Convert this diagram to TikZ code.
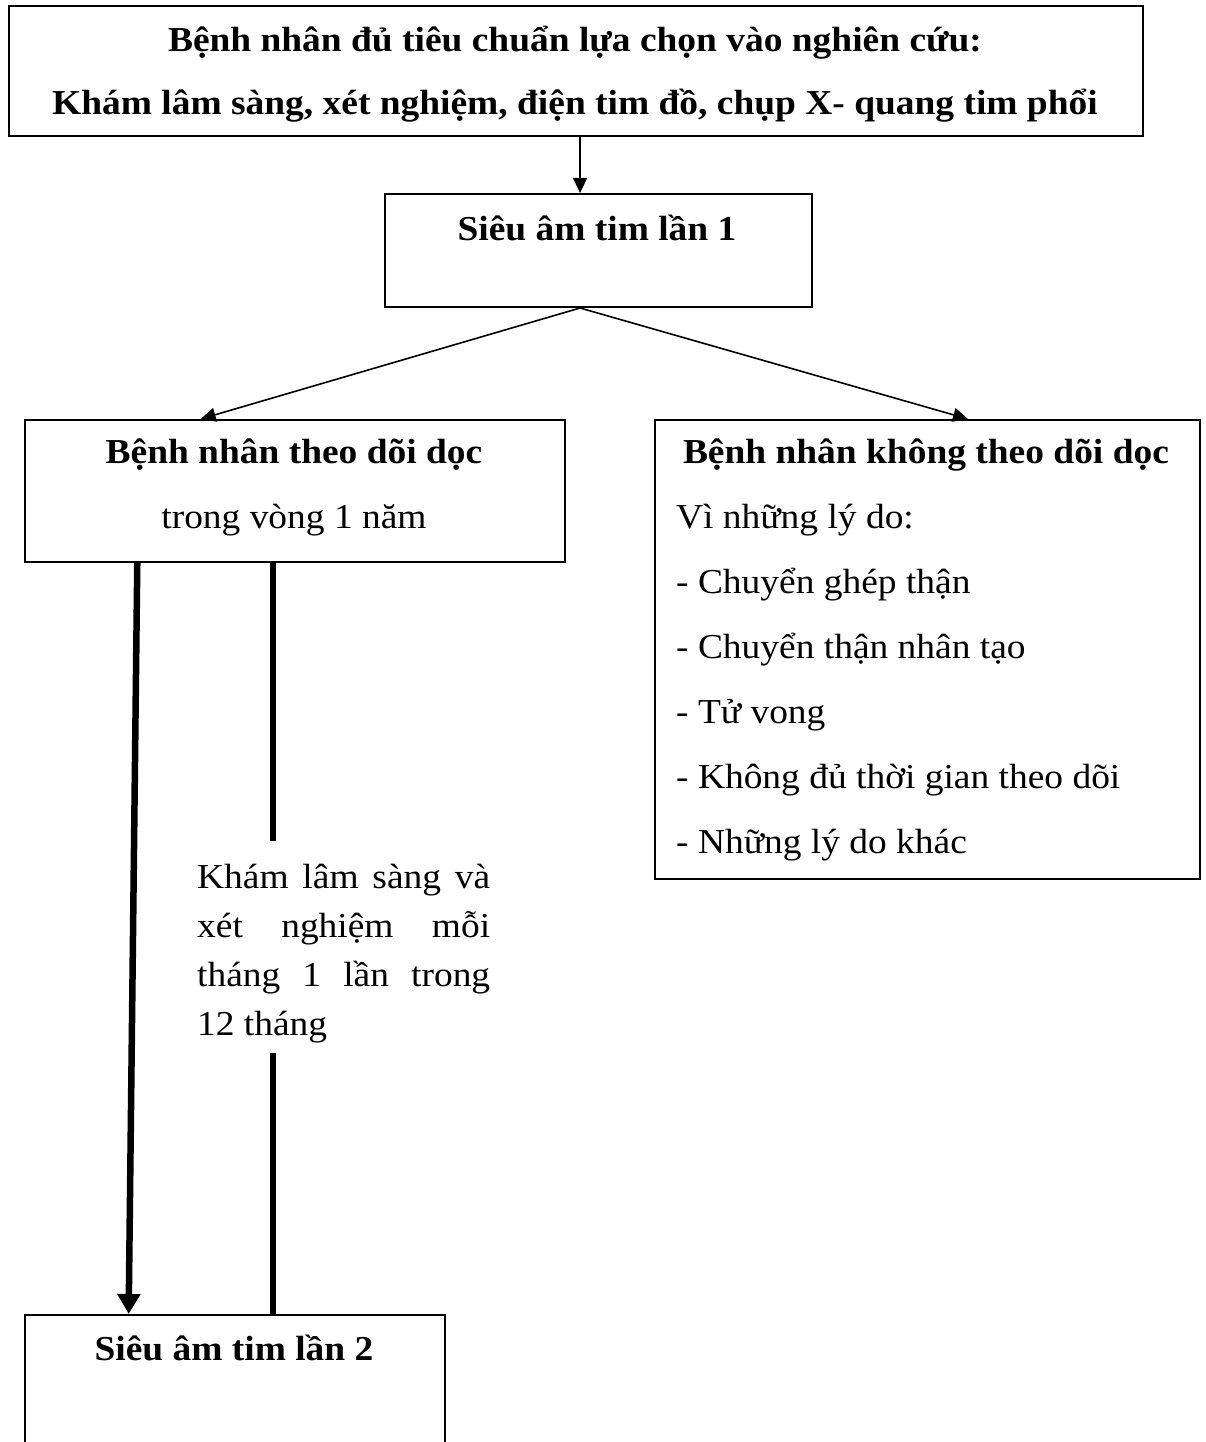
\documentclass[tikz,border=0pt]{standalone}
\usepackage{fontspec}
\setmainfont[FakeStretch=1.07]{Liberation Serif}
\usetikzlibrary{calc,arrows.meta}
\newcommand{\BigFont}{\fontsize{35}{49}\selectfont}
\tikzset{
	Box/.style={draw,line width=2pt,inner sep=0pt,anchor=north west},
	Thin/.style={line width=1.6pt,-{Triangle[length=15pt,width=14pt]}},
	Heavy/.style={line width=6.5pt},
	Txt/.style={anchor=base,inner sep=0pt,font=\BigFont},
	Head/.style={Txt,font=\BigFont\bfseries},
	Item/.style={anchor=base west,inner sep=0pt,font=\BigFont}
}

\begin{document}
\begin{tikzpicture}[x=1pt,y=-1pt]
	\useasboundingbox (0,0) rectangle (1205,1442);
	
	% boxes
	\node[Box,minimum width=1134pt,minimum height=130pt] (Top) at (8,5) {};
	\node[Box,minimum width=427pt,minimum height=113pt] (Echo1) at (384,193) {};
	\node[Box,minimum width=540pt,minimum height=142pt] (Follow) at (24,419) {};
	\node[Box,minimum width=545pt,minimum height=459pt] (NoFollow) at (654,419) {};
	\node[Box,minimum width=420pt,minimum height=160pt] (Echo2) at (24,1314) {};
	
	% texts
	\node[Head] (TopA) at (575,52) {Bệnh nhân đủ tiêu chuẩn lựa chọn vào nghiên cứu:};
	\node[Head] (TopB) at (575,115) {Khám lâm sàng, xét nghiệm, điện tim đồ, chụp X- quang tim phổi};
	\node[Head] (Echo1Text) at (597,240) {Siêu âm tim lần 1};
	\node[Head] (FollowHead) at (294,463) {Bệnh nhân theo dõi dọc};
	\node[Txt] (FollowText) at (294,528) {trong vòng 1 năm};
	\node[Head] (NoFollowHead) at (926,463) {Bệnh nhân không theo dõi dọc};
	\foreach \t [count=\i] in {Vì những lý do:,- Chuyển ghép thận,- Chuyển thận nhân tạo,- Tử vong,- Không đủ thời gian theo dõi,- Những lý do khác}
		\node[Item] (Why\i) at (676,{528+65*(\i-1)}) {\t};
	\foreach \t [count=\i] in {Khám lâm sàng và,xét nghiệm mỗi,tháng 1 lần trong}
		\node[Item] (Visit\i) at (197,{888+49*(\i-1)}) {\makebox[293pt][s]{\t}};
	\node[Item] (Visit4) at (197,1035) {12 tháng};
	\node[Head] (Echo2Text) at (234,1360) {Siêu âm tim lần 2};
	
	% connectors
	\coordinate (E1in) at ($(Echo1.north west)!0.457!(Echo1.north east)$);
	\coordinate (E1out) at ($(Echo1.south west)!0.457!(Echo1.south east)$);
	\draw[Thin] (Top.south -| E1in) -- (E1in);
	\draw[Thin] (E1out) -- ($(Follow.north west)!0.326!(Follow.north east)$);
	\draw[Thin] (E1out) -- ($(NoFollow.north west)!0.574!(NoFollow.north east)$);
	\draw[Heavy,-{Triangle[length=20pt,width=22pt]}] ($(Follow.south west)!0.209!(Follow.south east)$) -- ($(Echo2.north west)!0.248!(Echo2.north east)$);
	\coordinate (V1) at (273,841);
	\coordinate (V2) at (273,1053);
	\draw[Heavy] (Follow.south -| V1) -- (V1);
	\draw[Heavy] (V2) -- (Echo2.north -| V2);
\end{tikzpicture}
\end{document}
